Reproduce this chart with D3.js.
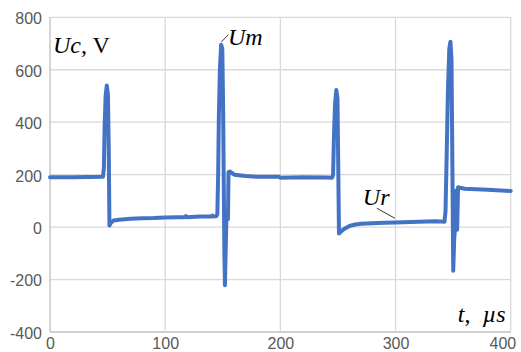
<!DOCTYPE html>
<html>
<head>
<meta charset="utf-8">
<script src="https://cdn.jsdelivr.net/npm/d3@7"></script>
<style>
  html, body { margin: 0; padding: 0; background: #fff; }
  svg { display: block; }
  .tick text { font-family: "Liberation Sans", Arial, sans-serif; font-size: 16px; fill: #595959; }
  .lbl { font-family: "Liberation Serif", "Times New Roman", serif; font-size: 24px; fill: #000; white-space: pre; }
</style>
</head>
<body>
<div id="chart"></div>
<script>
// time, microseconds
const timeUs = [
  0, 20, 46, 46.8, 47.4, 48.3, 49.3, 50.3, 51, 51.6, 52.5, 55, 60, 70, 80, 90, 100, 110, 117, 118, 119, 130, 140, 141, 142, 144.5,
  145.3, 146, 146.6, 147.5, 148.6, 149.6, 150.4, 150.9, 151.4, 151.9, 152.5, 153.2, 153.9, 154.5, 155, 156, 160, 170, 180, 199, 200, 220, 240, 245,
  245.8, 246.5, 247.5, 248.6, 249.6, 250.3, 250.9, 252, 255, 260, 265, 270, 280, 290, 300, 320, 335, 342.5,
  343.4, 344.3, 345.5, 346.7, 347.7, 348.6, 349.4, 350.1, 351, 352, 352.8, 353.5, 354.3, 356, 360, 380, 400
];
// capacitor voltage, V
const voltage = [
  190, 190, 192, 225, 380, 500, 540, 505, 300, 6, 14, 25, 28, 32, 34, 35, 37, 38, 38, 42, 38, 40, 40, 44, 40, 42,
  50, 200, 420, 600, 695, 680, 420, 150, -100, -222, -90, 40, 60, 30, 210, 212, 200, 195, 192, 192, 188, 190, 189, 188,
  200, 340, 470, 523, 490, 220, -24, -20, -8, 4, 10, 13, 15, 17, 18, 20, 22, 20,
  60, 250, 520, 680, 707, 640, 220, -166, -40, 10, 140, -10, 152, 150, 146, 142, 138
];
const xTicks = [0, 100, 200, 300, 400];
const yTicks = [-400, -200, 0, 200, 400, 600, 800];

const config = {
  totalWidth: 521,
  totalHeight: 352,
  margin: { top: 17.3, right: 10.3, bottom: 20, left: 50 }
};
config.width = config.totalWidth - config.margin.left - config.margin.right;
config.height = config.totalHeight - config.margin.top - config.margin.bottom;

const xScale = d3.scaleLinear().domain([0, 400]).range([0, config.width]);
const yScale = d3.scaleLinear().domain([-400, 800]).range([config.height, 0]);

const svg = d3.select('#chart').append('svg')
  .attr('width', config.totalWidth)
  .attr('height', config.totalHeight);
const g = svg.append('g')
  .attr('transform', `translate(${config.margin.left},${config.margin.top})`);

// grid
g.append('g')
  .selectAll('line')
  .data(yTicks)
  .enter()
  .append('line')
  .attr('x1', 0).attr('x2', config.width)
  .attr('y1', d => yScale(d)).attr('y2', d => yScale(d))
  .attr('stroke', d => d === -400 ? '#bfbfbf' : '#d9d9d9')
  .attr('stroke-width', 1.3);
g.append('g')
  .selectAll('line')
  .data(xTicks)
  .enter()
  .append('line')
  .attr('y1', 0).attr('y2', config.height)
  .attr('x1', d => xScale(d)).attr('x2', d => xScale(d))
  .attr('stroke', d => d === 0 ? '#bfbfbf' : '#d9d9d9')
  .attr('stroke-width', 1.3);

// axes (labels only, lines drawn as grid)
const xAxis = g.append('g')
  .attr('transform', `translate(0,${config.height})`)
  .call(d3.axisBottom(xScale).tickValues(xTicks).tickSize(0).tickPadding(0).tickFormat(d => String(d)));
xAxis.select('.domain').remove();
xAxis.selectAll('text').attr('dy', null).attr('y', 16.5);
// last label is pulled inside the frame, like the original
xAxis.selectAll('.tick').filter(d => d === 400).select('text')
  .attr('text-anchor', 'end').attr('x', 5);

const yAxis = g.append('g')
  .call(d3.axisLeft(yScale).tickValues(yTicks).tickSize(0).tickPadding(8).tickFormat(d => String(d)));
yAxis.select('.domain').remove();
yAxis.selectAll('text').attr('dy', '0.4em');

// trace
const line = d3.line()
  .x((d, i) => xScale(timeUs[i]))
  .y(d => yScale(d));
g.append('path')
  .datum(voltage)
  .attr('fill', 'none')
  .attr('stroke', '#4472c4')
  .attr('stroke-width', 4)
  .attr('stroke-linejoin', 'round')
  .attr('stroke-linecap', 'round')
  .attr('d', line);

// annotations
const ycLabel = g.append('text').attr('class', 'lbl')
  .attr('x', xScale(2.6)).attr('y', yScale(664));
ycLabel.append('tspan').attr('font-style', 'italic').text('Uc');
ycLabel.append('tspan').text(', V');

g.append('line')
  .attr('x1', xScale(148.8)).attr('y1', yScale(706))
  .attr('x2', xScale(154.9)).attr('y2', yScale(734))
  .attr('stroke', '#000').attr('stroke-width', 0.8);
g.append('text').attr('class', 'lbl').attr('font-style', 'italic')
  .attr('x', xScale(154.5)).attr('y', yScale(694))
  .text('Um');

g.append('line')
  .attr('x1', xScale(283.7)).attr('y1', yScale(72))
  .attr('x2', xScale(299.3)).attr('y2', yScale(34))
  .attr('stroke', '#000').attr('stroke-width', 0.8);
g.append('text').attr('class', 'lbl').attr('font-style', 'italic')
  .attr('x', xScale(271.6)).attr('y', yScale(85))
  .text('Ur');

const tLabel = g.append('text').attr('class', 'lbl')
  .attr('x', xScale(354)).attr('y', yScale(-361));
tLabel.append('tspan').attr('font-style', 'italic').text('t');
tLabel.append('tspan').text(',  ');
tLabel.append('tspan').attr('font-style', 'italic').text('µs');
</script>
</body>
</html>
